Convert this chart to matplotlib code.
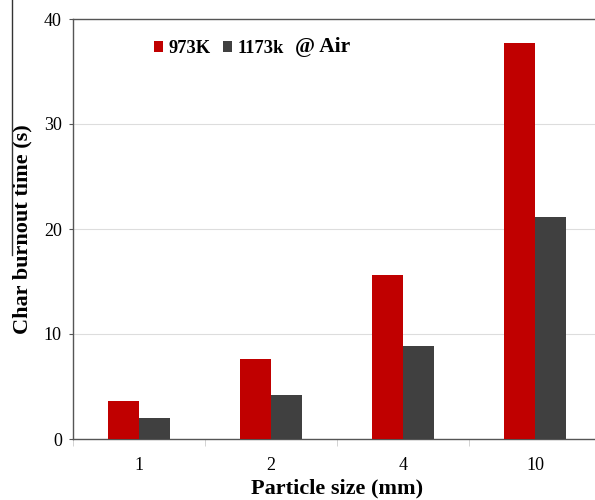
import matplotlib
matplotlib.use("Agg")
import matplotlib.pyplot as plt
from matplotlib.lines import Line2D
import numpy as np

sizes = ["1", "2", "4", "10"]
t_973 = [3.6, 7.6, 15.6, 37.7]
t_1173 = [2.0, 4.2, 8.9, 21.1]
RED, DARK = "#c00000", "#404040"

plt.rcParams.update({"font.family": "Liberation Serif"})

fig = plt.figure(figsize=(5.95, 5.0), dpi=100)
ax = fig.add_axes([73 / 595, 61 / 500, 528 / 595, 420 / 500])
x = np.arange(len(sizes))
w = 0.235
ax.bar(x - w / 2, t_973, w, color=RED, label="973K", zorder=3)
ax.bar(x + w / 2, t_1173, w, color=DARK, label="1173k", zorder=3)

ax.set_xlim(-0.5, 3.5)
ax.set_ylim(0, 40)
ax.set_yticks([0, 10, 20, 30, 40])
ax.yaxis.grid(True, color="#dddddd", lw=0.8, zorder=0)
ax.set_xticks(x)
ax.set_xticklabels(sizes)
ax.set_xticks(np.arange(-0.5, 3.6, 1.0), minor=True)
ax.tick_params(axis="x", which="major", length=0, labelsize=13, pad=13)
ax.tick_params(axis="x", which="minor", length=5, color="#cccccc")
ax.tick_params(axis="y", length=3, labelsize=13, color="#555555", pad=5)
for s in ["left", "bottom", "top"]:
    ax.spines[s].set_color("#555555")
    ax.spines[s].set_linewidth(1.0)
ax.spines["right"].set_visible(False)

ax.set_xlabel("Particle size (mm)", fontsize=16, fontweight="bold", labelpad=3)
ax.set_ylabel("Char burnout time (s)", fontsize=16, fontweight="bold", labelpad=8)

leg = ax.legend(loc="center left", bbox_to_anchor=(0.153, 0.93), ncol=2, frameon=False,
                borderpad=0, borderaxespad=0,
                handlelength=0.5, handleheight=0.5, handletextpad=0.28, columnspacing=0.7,
                prop={"weight": "bold", "size": 13.3})
ax.text(0.42, 0.933, "@ Air", transform=ax.transAxes, fontsize=15.5, fontweight="bold",
        ha="left", va="center")

fig.add_artist(Line2D([12 / 595, 12 / 595], [1.0, 1 - 255 / 500], color="#333333", lw=1.0))

fig.savefig("out.png", dpi=100)
